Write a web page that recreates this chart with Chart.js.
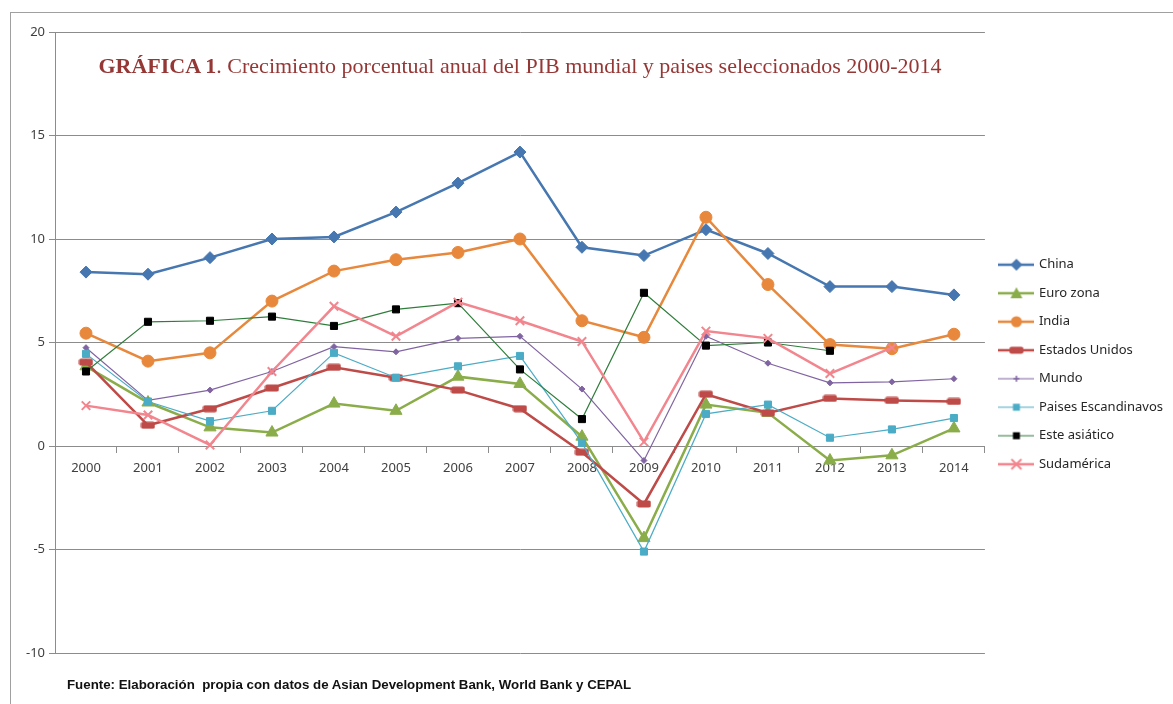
<!DOCTYPE html>
<html>
<head>
<meta charset="utf-8">
<script src="https://cdn.jsdelivr.net/npm/chart.js@4"></script>
<style>
html, body { margin: 0; padding: 0; background: #fff; }
#wrap { position: relative; width: 1173px; height: 704px; overflow: hidden; }
#frame { position: absolute; left: 10px; top: 12px; width: 1200px; height: 720px; border: 1px solid #a0a0a0; }
#chart { position: absolute; left: 0; top: 0; }
#title { position: absolute; left: 55px; width: 930px; top: 53px; text-align: center;
         font-family: "Liberation Serif", serif; font-size: 22px; color: #953735; white-space: nowrap; }
#note { position: absolute; left: 67px; top: 677px; font-family: "Liberation Sans", sans-serif;
        font-weight: bold; font-size: 13.3px; color: #111; white-space: nowrap; }
</style>
</head>
<body>
<div id="wrap">
  <div id="frame"></div>
  <canvas id="chart" width="1173" height="704"></canvas>
  <div id="title"><b>GRÁFICA 1</b>. Crecimiento porcentual anual del PIB mundial y paises seleccionados 2000-2014</div>
  <div id="note">Fuente: Elaboración&nbsp; propia con datos de Asian Development Bank, World Bank y CEPAL</div>
</div>
<script>
const years = ['2000','2001','2002','2003','2004','2005','2006','2007','2008','2009','2010','2011','2012','2013','2014'];

const china      = [8.4, 8.3, 9.1, 10.0, 10.1, 11.3, 12.7, 14.2, 9.6, 9.2, 10.45, 9.3, 7.7, 7.7, 7.3];
const euroZona   = [3.85, 2.1, 0.9, 0.65, 2.05, 1.7, 3.35, 3.0, 0.45, -4.45, 2.0, 1.6, -0.7, -0.45, 0.85];
const india      = [5.45, 4.1, 4.5, 7.0, 8.45, 9.0, 9.35, 10.0, 6.05, 5.25, 11.05, 7.8, 4.9, 4.7, 5.4];
const eeuu       = [4.05, 1.0, 1.8, 2.8, 3.8, 3.3, 2.7, 1.8, -0.3, -2.8, 2.5, 1.6, 2.3, 2.2, 2.15];
const mundo      = [4.75, 2.2, 2.7, 3.6, 4.8, 4.55, 5.2, 5.3, 2.75, -0.7, 5.3, 4.0, 3.05, 3.1, 3.25];
const escandinavos = [4.45, 2.15, 1.2, 1.7, 4.5, 3.3, 3.85, 4.35, 0.15, -5.1, 1.55, 2.0, 0.4, 0.8, 1.35];
const esteAsiatico = [3.6, 6.0, 6.05, 6.25, 5.8, 6.6, 6.9, 3.7, 1.3, 7.4, 4.85, 5.0, 4.6, null, null];
const sudamerica = [1.95, 1.5, 0.05, 3.6, 6.75, 5.3, 6.95, 6.05, 5.05, 0.2, 5.55, 5.2, 3.5, 4.75, null];

// wide rectangle marker like Excel's
function wideRect(color) {
  const c = document.createElement('canvas');
  c.width = 15; c.height = 8;
  const g = c.getContext('2d');
  g.fillStyle = color;
  g.beginPath();
  g.roundRect(0.5, 0.5, 14, 7, 2);
  g.fill();
  return c;
}

function drawMarker(g, shape, x, y, color, fill) {
  g.fillStyle = fill || color;
  g.strokeStyle = color;
  g.beginPath();
  if (shape === 'diamond') {
    g.moveTo(x, y - 6); g.lineTo(x + 6, y); g.lineTo(x, y + 6); g.lineTo(x - 6, y); g.closePath(); g.fill();
  } else if (shape === 'triangle') {
    g.moveTo(x, y - 6); g.lineTo(x + 6, y + 5); g.lineTo(x - 6, y + 5); g.closePath(); g.fill();
  } else if (shape === 'circle') {
    g.arc(x, y, 5.5, 0, Math.PI * 2); g.fill();
  } else if (shape === 'wide') {
    g.roundRect(x - 7, y - 3.5, 14, 7, 2); g.fill();
  } else if (shape === 'star') {
    g.lineWidth = 1.5;
    g.moveTo(x - 3, y); g.lineTo(x + 3, y); g.moveTo(x, y - 3); g.lineTo(x, y + 3); g.stroke();
  } else if (shape === 'square') {
    g.rect(x - 3.5, y - 3.5, 7, 7); g.fill();
  } else if (shape === 'cross') {
    g.lineWidth = 2;
    g.moveTo(x - 5, y - 5); g.lineTo(x + 5, y + 5); g.moveTo(x + 5, y - 5); g.lineTo(x - 5, y + 5); g.stroke();
  }
}

function legendIcon(color, lw, shape, fill) {
  const c = document.createElement('canvas');
  c.width = 36; c.height = 14;
  const g = c.getContext('2d');
  g.strokeStyle = color;
  g.lineWidth = lw;
  g.beginPath(); g.moveTo(0, 7); g.lineTo(36, 7); g.stroke();
  drawMarker(g, shape, 18, 7, color, fill);
  return c;
}

const series = [
  { label: 'China', data: china, color: '#4677b0', lw: 2.5, style: 'rectRot', r: 6, shape: 'diamond' },
  { label: 'Euro zona', data: euroZona, color: '#8aad4a', lw: 2.5, style: 'triangle', r: 7, shape: 'triangle' },
  { label: 'India', data: india, color: '#e8883c', lw: 2.5, style: 'circle', r: 6, shape: 'circle' },
  { label: 'Estados Unidos', data: eeuu, color: '#be4b48', lw: 2.5, style: wideRect('#be4b48'), r: 6, shape: 'wide' },
  { label: 'Mundo', data: mundo, color: '#8064a2', lw: 1.2, style: 'rectRot', r: 3, shape: 'star' },
  { label: 'Paises Escandinavos', data: escandinavos, color: '#4bacc6', lw: 1.2, style: 'rect', r: 5, shape: 'square' },
  { label: 'Este asiático', data: esteAsiatico, color: '#2f7d3a', lw: 1.2, style: 'rect', r: 5, shape: 'square', fill: '#000' },
  { label: 'Sudamérica', data: sudamerica, color: '#f2858d', lw: 2.5, style: 'crossRot', r: 6, shape: 'cross' }
];

const gridColor = '#8c8c8c';
const tickFont = { family: 'Noto Sans', size: 13 };

// move the legend block down a bit, as in the original
const legendShift = {
  id: 'legendShift',
  afterLayout(chart) {
    chart.legend.top += 22;
    chart.legend.bottom += 22;
  }
};

new Chart(document.getElementById('chart').getContext('2d'), {
  type: 'line',
  data: {
    labels: years,
    datasets: series.map((s, i) => ({
      label: s.label,
      data: s.data,
      borderColor: s.color,
      backgroundColor: s.fill || s.color,
      pointBackgroundColor: s.fill || s.color,
      pointBorderColor: s.fill ? '#000' : s.color,
      borderWidth: s.lw,
      pointStyle: s.style,
      pointRadius: s.r,
      pointBorderWidth: s.shape === 'cross' ? 2 : 1,
      tension: 0,
      fill: false,
      order: series.length - i
    }))
  },
  plugins: [legendShift],
  options: {
    responsive: false,
    animation: false,
    layout: { padding: { top: 32, bottom: 51, left: 0, right: 0 } },
    plugins: {
      tooltip: { enabled: false },
      title: { display: false },
      legend: {
        position: 'right',
        align: 'center',
        labels: {
          usePointStyle: true,
          pointStyleWidth: 32,
          padding: 15.5,
          color: '#262626',
          font: { family: 'Noto Sans', size: 13 },
          generateLabels: chart => series.map((s, i) => ({
            text: s.label,
            pointStyle: legendIcon(s.color, s.lw, s.shape, s.fill),
            datasetIndex: i,
            fontColor: '#262626',
            lineWidth: 0,
            hidden: false
          }))
        }
      }
    },
    scales: {
      y: {
        min: -10,
        max: 20,
        ticks: { stepSize: 5, color: '#404040', font: tickFont, padding: 4 },
        grid: { color: gridColor, tickLength: 6 },
        border: { color: gridColor },
        afterFit: s => { s.width = 55; }
      },
      x: {
        position: { y: 0 },
        offset: true,
        ticks: { color: '#404040', font: tickFont, padding: 8, maxRotation: 0 },
        grid: { drawOnChartArea: false, color: gridColor, tickLength: 6, offset: true },
        border: { color: gridColor }
      }
    }
  }
});
</script>
</body>
</html>
